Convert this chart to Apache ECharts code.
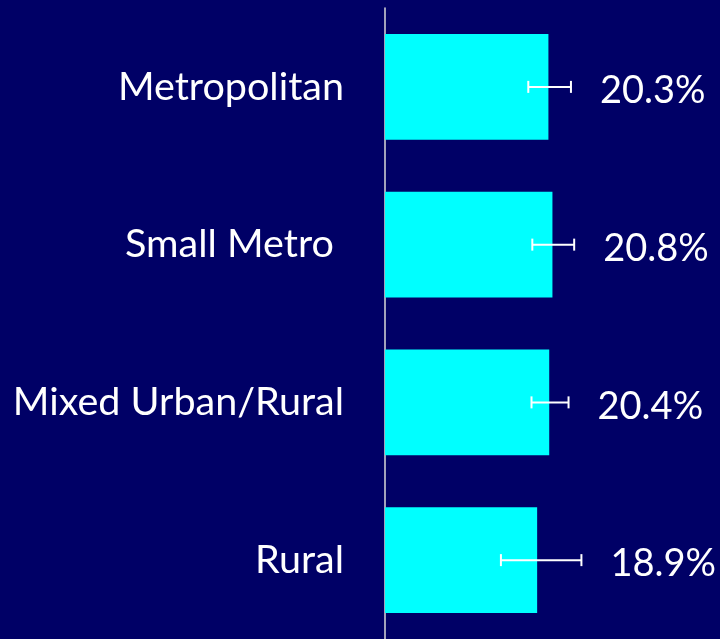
<!DOCTYPE html>
<html>
<head>
<meta charset="utf-8">
<script src="https://cdn.jsdelivr.net/npm/echarts@6/dist/echarts.min.js"></script>
<style>
  html, body { margin: 0; padding: 0; background: #000066; }
  #chart { width: 720px; height: 639px; }
</style>
</head>
<body>
<div id="chart"></div>
<script>
// カテゴリと値
var categories = ["Metropolitan", "Small Metro ", "Mixed Urban/Rural", "Rural"];
var values = [20.3, 20.8, 20.4, 18.9];
var lower = [17.8, 18.3, 18.2, 14.4];   // エラーバー下端
var upper = [23.1, 23.5, 22.8, 24.4];   // エラーバー上端

var fontName = "Lato";

var errData = [];
for (var i = 0; i < categories.length; i++) {
    errData.push([i, lower[i], upper[i], values[i]]);
}

var chart = echarts.init(document.getElementById("chart"));
chart.setOption({
    backgroundColor: "#000066",
    animation: false,
    grid: { left: 385, width: 322, top: 8, height: 634 },
    xAxis: {
        type: "value",
        min: 0,
        max: 40,
        show: false
    },
    yAxis: {
        type: "category",
        inverse: true,
        data: categories,
        axisLine: { show: true, lineStyle: { color: "#D9D9D9", width: 1.5 } },
        axisTick: { show: false },
        axisLabel: {
            color: "#FFFFFF",
            fontSize: 39.5,
            fontFamily: fontName,
            margin: 41
        }
    },
    series: [
        {
            type: "bar",
            data: values,
            barCategoryGap: "33%",
            itemStyle: { color: "#00FFFF" },
            z: 2
        },
        {
            type: "custom",
            z: 3,
            data: errData,
            renderItem: function (params, api) {
                var idx = api.value(0);
                var lo = api.coord([api.value(1), idx]);
                var hi = api.coord([api.value(2), idx]);
                var cap = 6;
                var style = { stroke: "#FFFFFF", lineWidth: 2 };
                return {
                    type: "group",
                    children: [
                        { type: "line", shape: { x1: lo[0], y1: lo[1], x2: hi[0], y2: hi[1] }, style: style },
                        { type: "line", shape: { x1: lo[0], y1: lo[1] - cap, x2: lo[0], y2: lo[1] + cap }, style: style },
                        { type: "line", shape: { x1: hi[0], y1: hi[1] - cap, x2: hi[0], y2: hi[1] + cap }, style: style },
                        {
                            type: "text",
                            x: hi[0] + 29,
                            y: hi[1] + 4,
                            style: {
                                text: api.value(3).toFixed(1) + "%",
                                fill: "#FFFFFF",
                                font: "38px " + fontName,
                                verticalAlign: "middle",
                                align: "left"
                            }
                        }
                    ]
                };
            }
        }
    ]
});
</script>
</body>
</html>
